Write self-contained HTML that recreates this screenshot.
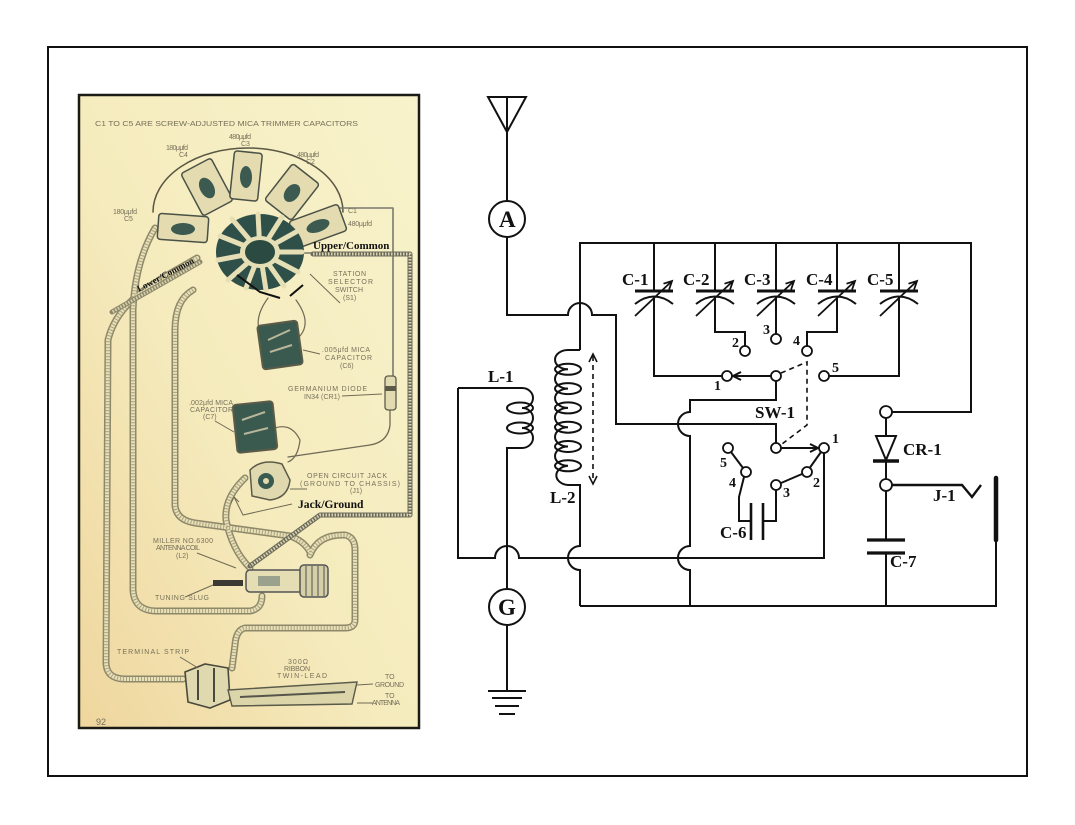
<!DOCTYPE html>
<html><head><meta charset="utf-8"><style>
html,body{margin:0;padding:0;background:#fff;}
svg{display:block;}
.lb{font-family:"Liberation Serif",serif;font-weight:bold;fill:#111;}
.sm{font-family:"Liberation Sans",sans-serif;font-size:7px;fill:#77715a;}
</style></head><body>
<svg width="1075" height="825" viewBox="0 0 1075 825" xmlns="http://www.w3.org/2000/svg">
<defs>
<linearGradient id="pg" x1="1" y1="0" x2="0" y2="1">
<stop offset="0" stop-color="#f8f3cc"/>
<stop offset="0.55" stop-color="#f5ebbd"/>
<stop offset="1" stop-color="#efd69e"/>
</linearGradient>
</defs>
<rect x="0" y="0" width="1075" height="825" fill="#fff"/>
<rect x="48" y="47" width="979" height="729" fill="none" stroke="#111" stroke-width="2"/>

<!-- ============ PHOTO ============ -->
<rect x="79" y="95" width="340" height="633" fill="url(#pg)"/>
<g fill="none" stroke-linecap="round" stroke-linejoin="round">
<!-- cables outer -->
<g stroke="#8e886a" stroke-width="7">
<path d="M197,258 C160,280 118,298 108,340 L106,662 Q106,679 125,679 L183,679"/>
<path d="M155,228 Q135,262 133,310 L133,590 Q134,610 155,611 L250,611 Q262,609 262,596"/>
<path d="M193,290 Q175,300 175,330 L175,505 Q176,520 195,523 L290,536 Q304,541 310,552"/>
<path d="M310,555 Q318,534 345,535 Q355,537 355,550 L355,620 Q355,628 345,628 L245,628 Q236,630 235,645 L232,668"/>
<path d="M245,478 Q224,498 226,520 Q232,550 250,568"/>
</g>
<g stroke="#e8e0b6" stroke-width="4">
<path d="M197,258 C160,280 118,298 108,340 L106,662 Q106,679 125,679 L183,679"/>
<path d="M155,228 Q135,262 133,310 L133,590 Q134,610 155,611 L250,611 Q262,609 262,596"/>
<path d="M193,290 Q175,300 175,330 L175,505 Q176,520 195,523 L290,536 Q304,541 310,552"/>
<path d="M310,555 Q318,534 345,535 Q355,537 355,550 L355,620 Q355,628 345,628 L245,628 Q236,630 235,645 L232,668"/>
<path d="M245,478 Q224,498 226,520 Q232,550 250,568"/>
</g>
<g stroke="#aaa17e" stroke-width="4" stroke-dasharray="1 2" stroke-linecap="butt">
<path d="M197,258 C160,280 118,298 108,340 L106,662 Q106,679 125,679 L183,679"/>
<path d="M155,228 Q135,262 133,310 L133,590 Q134,610 155,611 L250,611 Q262,609 262,596"/>
<path d="M193,290 Q175,300 175,330 L175,505 Q176,520 195,523 L290,536 Q304,541 310,552"/>
<path d="M310,555 Q318,534 345,535 Q355,537 355,550 L355,620 Q355,628 345,628 L245,628 Q236,630 235,645 L232,668"/>
<path d="M245,478 Q224,498 226,520 Q232,550 250,568"/>
</g>
<!-- dome arc -->
<path d="M153,212 A95,64 0 0 1 343,212" stroke="#5a5744" stroke-width="1.5"/>
<!-- thin gray leads -->
<path d="M340,208 H393 V375" stroke="#7a7a70" stroke-width="1.6"/>
<path d="M300,253 H313" stroke="#7a7a70" stroke-width="1.6"/>
<path d="M390,410 V425 Q388,442 370,445 L288,457" stroke="#6f6a55" stroke-width="1.3"/>
<path d="M268,298 Q252,320 262,336 M296,300 Q312,322 300,336" stroke="#6f6a55" stroke-width="1.2"/>
<path d="M270,430 Q290,420 300,440 Q298,458 288,462" stroke="#6f6a55" stroke-width="1.2"/>
<!-- Upper/Common hatched stripe -->
<path d="M313,254 H410 V515 H320 L250,566" stroke="#6b6a5a" stroke-width="5"/>
<path d="M313,254 H410 V515 H320 L250,566" stroke="#d8d3b0" stroke-width="3" stroke-dasharray="1.5 1.5" stroke-linecap="butt"/>
<!-- Lower/Common stripe -->
<path d="M200,262 L112,312" stroke="#8e886a" stroke-width="5"/>
<path d="M200,262 L112,312" stroke="#d8d3b0" stroke-width="3" stroke-dasharray="1.5 1.5" stroke-linecap="butt"/>
</g>
<!-- trimmer capacitors -->
<g stroke="#4a5147" stroke-width="1.5" fill="#e4dcb0">
<rect x="-25" y="-13" width="50" height="26" rx="3" transform="translate(183,228) rotate(4)"/>
<rect x="-17" y="-24" width="34" height="48" rx="3" transform="translate(207,187) rotate(-28)"/>
<rect x="-14" y="-24" width="28" height="48" rx="3" transform="translate(246,176) rotate(6)"/>
<rect x="-17" y="-23" width="34" height="46" rx="3" transform="translate(292,192) rotate(38)"/>
<rect x="-26" y="-14" width="52" height="28" rx="3" transform="translate(318,226) rotate(-20)"/>
</g>
<g fill="#3d5a50">
<ellipse cx="183" cy="229" rx="12" ry="6"/>
<ellipse cx="207" cy="188" rx="7" ry="11" transform="rotate(-28 207 188)"/>
<ellipse cx="246" cy="177" rx="6" ry="11"/>
<ellipse cx="292" cy="193" rx="7" ry="10" transform="rotate(38 292 193)"/>
<ellipse cx="318" cy="226" rx="12" ry="6" transform="rotate(-20 318 226)"/>
</g>
<!-- selector switch -->
<ellipse cx="260" cy="252" rx="44" ry="38" fill="#2f5049"/>
<g stroke="#e6dfb6" stroke-width="5" stroke-linecap="round">
<path d="M260,252 L302,252 M260,252 L296,232 M260,252 L282,217 M260,252 L258,214 M260,252 L232,219 M260,252 L220,236 M260,252 L218,260 M260,252 L228,280 M260,252 L246,288 M260,252 L266,290 M260,252 L284,286 M260,252 L298,272"/>
</g>
<ellipse cx="260" cy="252" rx="20" ry="16" fill="#e6dfb6"/>
<ellipse cx="260" cy="252" rx="15" ry="12" fill="#2a4a42"/>
<path d="M237,275 L260,292 L280,298 M290,296 L303,285" fill="none" stroke="#111" stroke-width="2"/>
<!-- C6 -->
<rect x="-20" y="-22" width="40" height="44" rx="3" fill="#3a5a50" stroke="#5b5b48" stroke-width="2" transform="translate(280,345) rotate(-8)"/>
<path d="M268,340 L290,330 M270,352 L292,345" stroke="#b9b79a" stroke-width="2"/>
<!-- diode -->
<rect x="385" y="376" width="11" height="34" rx="3" fill="#e2dbb2" stroke="#5b5b48" stroke-width="1.3"/>
<rect x="385" y="386" width="11" height="5" fill="#5b5b48"/>
<!-- C7 -->
<rect x="-20" y="-24" width="40" height="48" rx="3" fill="#3a5a50" stroke="#5b5b48" stroke-width="2" transform="translate(255,427) rotate(-6)"/>
<path d="M242,420 L265,412 M244,434 L268,428" stroke="#b9b79a" stroke-width="2"/>
<!-- jack -->
<path d="M250,470 Q262,458 282,464 L290,480 Q288,498 270,500 L252,496 Z" fill="#e0d9b0" stroke="#5b5b48" stroke-width="1.5"/>
<circle cx="266" cy="481" r="8" fill="#3a5a50"/>
<circle cx="266" cy="481" r="3" fill="#e0d9b0"/>
<!-- coil -->
<rect x="246" y="570" width="58" height="22" rx="4" fill="#e5ddb3" stroke="#555" stroke-width="1.5"/>
<rect x="300" y="565" width="28" height="32" rx="4" fill="#d6cfa6" stroke="#555" stroke-width="1.5"/>
<path d="M306,566 V596 M312,566 V596 M318,566 V596 M324,566 V596" stroke="#666" stroke-width="1.2"/>
<rect x="213" y="580" width="30" height="6" fill="#3b3b34"/>
<rect x="258" y="576" width="22" height="10" fill="#9aa28e"/>
<!-- terminal strip -->
<path d="M185,672 L205,664 L228,668 L230,700 L210,708 L188,702 Z" fill="#e0d9b0" stroke="#4a4a3c" stroke-width="1.6"/>
<path d="M198,670 V700 M214,668 V702" stroke="#4a4a3c" stroke-width="2"/>
<!-- twin lead -->
<polygon points="228,690 357,682 352,704 232,706" fill="#ddd5aa" stroke="#5a5a4a" stroke-width="1.4"/>
<path d="M240,697 L345,692" stroke="#55554a" stroke-width="2"/>
<!-- pointer lines -->
<g stroke="#6f6a55" stroke-width="1" fill="none">
<path d="M340,303 L310,274"/>
<path d="M320,354 L303,350"/>
<path d="M342,396 L382,394"/>
<path d="M215,421 L234,432"/>
<path d="M307,489 L290,489"/>
<path d="M292,504 L243,515 L234,497 M231,503 L234,497 L239,502"/>
<path d="M197,553 L236,568"/>
<path d="M185,597 L213,585"/>
<path d="M180,657 L198,668"/>
<path d="M357,685 L373,684 M357,703 L373,703"/>
</g>
<!-- photo labels -->
<g class="sm">
<text x="95" y="126" textLength="263" lengthAdjust="spacingAndGlyphs">C1 TO C5 ARE SCREW-ADJUSTED MICA TRIMMER CAPACITORS</text>
<text x="229" y="139" textLength="22">480μμfd</text><text x="241" y="146">C3</text>
<text x="166" y="150" textLength="22">180μμfd</text><text x="179" y="157">C4</text>
<text x="297" y="157" textLength="22">480μμfd</text><text x="306" y="164">C2</text>
<text x="113" y="214" textLength="24">180μμfd</text><text x="124" y="221">C5</text>
<text x="348" y="213">C1</text><text x="348" y="226" textLength="24">480μμfd</text>
<text x="333" y="276" textLength="33">STATION</text>
<text x="328" y="284" textLength="45">SELECTOR</text>
<text x="335" y="292" textLength="28">SWITCH</text>
<text x="343" y="300">(S1)</text>
<text x="322" y="352" textLength="48">.005μfd MICA</text>
<text x="325" y="360" textLength="47">CAPACITOR</text>
<text x="340" y="368">(C6)</text>
<text x="288" y="391" textLength="79">GERMANIUM DIODE</text>
<text x="304" y="399" textLength="36">IN34 (CR1)</text>
<text x="189" y="405" textLength="44">.002μfd MICA</text>
<text x="190" y="412" textLength="43">CAPACITOR</text>
<text x="203" y="419">(C7)</text>
<text x="307" y="478" textLength="80">OPEN CIRCUIT JACK</text>
<text x="300" y="486" textLength="100">(GROUND TO CHASSIS)</text>
<text x="350" y="493">(J1)</text>
<text x="153" y="543" textLength="60">MILLER NO.6300</text>
<text x="156" y="550" textLength="44">ANTENNA COIL</text>
<text x="176" y="558">(L2)</text>
<text x="155" y="600" textLength="54">TUNING SLUG</text>
<text x="117" y="654" textLength="72">TERMINAL  STRIP</text>
<text x="288" y="664" textLength="20">300Ω</text>
<text x="284" y="671" textLength="26">RIBBON</text>
<text x="277" y="678" textLength="50">TWIN-LEAD</text>
<text x="385" y="679">TO</text>
<text x="375" y="687" textLength="29">GROUND</text>
<text x="385" y="698">TO</text>
<text x="372" y="705" textLength="28">ANTENNA</text>
<text x="96" y="725" style="font-size:9px">92</text>
</g>
<g class="lb">
<text x="313" y="249" style="font-size:11px">Upper/Common</text>
<text x="298" y="508" style="font-size:11.6px">Jack/Ground</text>
<text x="0" y="0" style="font-size:9px" transform="translate(139,292) rotate(-28)">Lower/Common</text>
</g>
<rect x="79" y="95" width="340" height="633" fill="none" stroke="#1c1a14" stroke-width="2.5"/>

<!-- ============ SCHEMATIC ============ -->
<g stroke="#111" stroke-width="2" fill="none" stroke-linejoin="miter">
<!-- antenna -->
<path d="M488,97 H526 L507,132 Z M507,97 V201"/>
<circle cx="507" cy="219" r="18" fill="#fff"/>
<path d="M507,237 V315 H568 A12,12 0 0 1 592,315 H616 V424 H776 V443"/>
<!-- top rail -->
<path d="M580,350 V243 H971 V412 H892"/>
<!-- L-2 coil -->
<path d="M580,350 H568 A13,9.65 0 0 0 568,369.3 A13,9.65 0 0 0 568,388.6 A13,9.65 0 0 0 568,407.9 A13,9.65 0 0 0 568,427.2 A13,9.65 0 0 0 568,446.5 A13,9.65 0 0 0 568,465.8 A13,9.65 0 0 0 568,485 H580 V546 A12,12 0 0 0 580,570 V606"/>
<ellipse cx="568" cy="369.3" rx="13" ry="5.5"/>
<ellipse cx="568" cy="388.6" rx="13" ry="5.5"/>
<ellipse cx="568" cy="407.9" rx="13" ry="5.5"/>
<ellipse cx="568" cy="427.2" rx="13" ry="5.5"/>
<ellipse cx="568" cy="446.5" rx="13" ry="5.5"/>
<ellipse cx="568" cy="465.8" rx="13" ry="5.5"/>
<!-- L-1 coil and loop -->
<path d="M458,388 H522 A11,10 0 0 1 522,408 A11,10 0 0 1 522,428 A11,10 0 0 1 522,448 H507 V589"/>
<ellipse cx="520" cy="408" rx="13" ry="5.5"/>
<ellipse cx="520" cy="428" rx="13" ry="5.5"/>
<path d="M458,388 V558 H495 A12,12 0 0 1 519,558 H824 V453"/>
<circle cx="507" cy="607" r="18" fill="#fff"/>
<path d="M507,625 V691 M488,691 H526 M492,698 H522 M495,706 H519 M499,714 H515"/>
<!-- x=690 line -->
<path d="M776,381 V400 H690 V412 A12,12 0 0 0 690,436 V546 A12,12 0 0 0 690,570 V606"/>
<!-- bottom rail -->
<path d="M580,606 H996 V540"/>
<!-- capacitors C1..C5 -->
<path d="M654,243 V291 M654,297 V376 H722"/>
<path d="M715,243 V291 M715,297 V332 H745 V346"/>
<path d="M776,243 V291 M776,297 V334"/>
<path d="M837,243 V291 M837,297 V332 H807 V346"/>
<path d="M899,243 V291 M899,297 V376 H829"/>
<g stroke-width="3">
<path d="M635,291 H673 M696,291 H734 M757,291 H795 M818,291 H856 M880,291 H918"/>
</g>
<path d="M635,304 Q654,289 673,304 M696,304 Q715,289 734,304 M757,304 Q776,289 795,304 M818,304 Q837,289 856,304 M880,304 Q899,289 918,304"/>
<g stroke-width="1.8">
<path d="M635,316 L672,281 M663.5,283.7 L672,281 L669.1,289.5"/>
<path d="M696,316 L733,281 M724.5,283.7 L733,281 L730.1,289.5"/>
<path d="M757,316 L794,281 M785.5,283.7 L794,281 L791.1,289.5"/>
<path d="M818,316 L855,281 M846.5,283.7 L855,281 L852.1,289.5"/>
<path d="M880,316 L917,281 M908.5,283.7 L917,281 L914.1,289.5"/>
</g>
<!-- switch upper -->
<path d="M771,376 H733 M741,372 L733,376 L741,380"/>
<path d="M781,448 H818 M810,444 L818,448 L810,452"/>
<path d="M781,373 L807,362 V425 L782,444" stroke-width="1.6" stroke-dasharray="5 4"/>
<!-- lower switch wiring -->
<path d="M821,452 L810,467.5 M802,474 L781,483 M776,490 V521 H763 M751,521 H739 V497 L744,477 M731,452 L743,468"/>
<path d="M751,503 V540 M763,503 V540" stroke-width="2.6"/>
<!-- CR-1, J-1, C-7 -->
<path d="M886,418 V436 M876,436 H896 L886,460 Z M886,461 V479"/>
<path d="M873,461 H899" stroke-width="3.5"/>
<path d="M892,485 H962 L972,497 L981,485" stroke-width="2.4"/>
<path d="M996,478 V540" stroke-width="4.5" stroke-linecap="round"/>
<path d="M886,491 V539 M886,553 V606"/>
<path d="M867,540 H905 M867,553 H905" stroke-width="3.2"/>
<!-- terminal circles -->
<g fill="#fff" stroke-width="1.8">
<circle cx="886" cy="412" r="6"/>
<circle cx="886" cy="485" r="6"/>
<circle cx="727" cy="376" r="5"/>
<circle cx="745" cy="351" r="5"/>
<circle cx="776" cy="339" r="5"/>
<circle cx="807" cy="351" r="5"/>
<circle cx="824" cy="376" r="5"/>
<circle cx="776" cy="376" r="5"/>
<circle cx="776" cy="448" r="5"/>
<circle cx="824" cy="448" r="5"/>
<circle cx="807" cy="472" r="5"/>
<circle cx="776" cy="485" r="5"/>
<circle cx="746" cy="472" r="5"/>
<circle cx="728" cy="448" r="5"/>
</g>
</g>
<!-- dashed tuning arrow on L-2 -->
<g stroke="#111" stroke-width="1.6" fill="none">
<path d="M593,356 V480" stroke-dasharray="5 4"/>
<path d="M589,362 L593,354 L597,362 M589,476 L593,484 L597,476"/>
</g>
<!-- schematic labels -->
<g class="lb">
<text x="499" y="227" style="font-size:23px">A</text>
<text x="498" y="615" style="font-size:23px">G</text>
<g style="font-size:17px">
<text x="622" y="285">C-1</text>
<text x="683" y="285">C-2</text>
<text x="744" y="285">C-3</text>
<text x="806" y="285">C-4</text>
<text x="867" y="285">C-5</text>
<text x="488" y="382">L-1</text>
<text x="550" y="503">L-2</text>
<text x="755" y="418">SW-1</text>
<text x="903" y="455">CR-1</text>
<text x="933" y="501">J-1</text>
<text x="720" y="538">C-6</text>
<text x="890" y="567">C-7</text>
</g>
<g style="font-size:14px">
<text x="714" y="390">1</text>
<text x="732" y="347">2</text>
<text x="763" y="334">3</text>
<text x="793" y="345">4</text>
<text x="832" y="372">5</text>
<text x="832" y="443">1</text>
<text x="813" y="487">2</text>
<text x="783" y="497">3</text>
<text x="729" y="487">4</text>
<text x="720" y="467">5</text>
</g>
</g>
</svg>
</body></html>
